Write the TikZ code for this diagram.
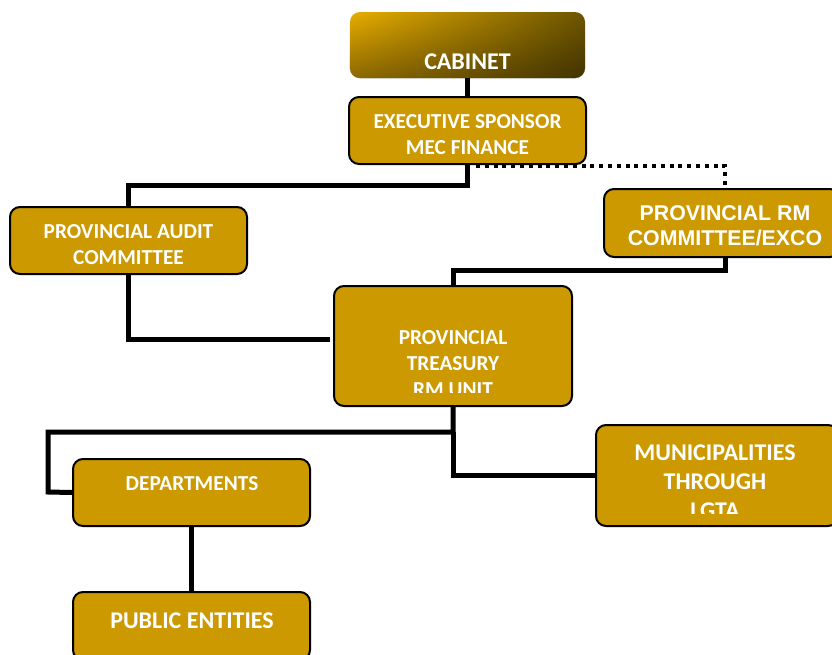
\documentclass[tikz,border=0pt]{standalone}
\usepackage{fontspec}
\usetikzlibrary{fadings}
\newfontfamily\calfont{Carlito}
\newfontfamily\arialfont{Liberation Sans}
\definecolor{boxgold}{HTML}{CC9900}
\definecolor{cabgold}{HTML}{E8AE00}
\definecolor{cabdark}{HTML}{6E5600}
\tikzfading[name=darkbottom, top color=transparent!100, bottom color=transparent!0]
\tikzset{
  orgbox/.style={draw=black, line width=1.5pt, fill=boxgold, rounded corners=7.5pt, inner sep=0pt},
  lbl/.style={text=white, align=center, inner sep=0pt, font=\calfont\bfseries\fontsize{16}{19.5}\selectfont},
  lblbig/.style={lbl, font=\calfont\bfseries\fontsize{18}{21.75}\selectfont},
  lblarial/.style={text=white, align=center, inner sep=0pt, font=\arialfont\bfseries\fontsize{16}{18.75}\selectfont},
  conn/.style={line width=3.75pt, draw=black},
  dotconn/.style={line width=3.6pt, draw=black, dash pattern=on 3pt off 3.6pt},
}
\begin{document}
\begin{tikzpicture}[x=0.75pt, y=-0.75pt]
\useasboundingbox (0,0) rectangle (832,654);
% boxes
\node[rounded corners=7.5pt, inner sep=0pt, minimum width=176.25pt, minimum height=49.5pt, left color=cabgold, right color=cabdark] (cab) at (467.5,45) {};
\fill[rounded corners=7.5pt, black, fill opacity=0.4, path fading=darkbottom] (cab.north west) rectangle (cab.south east);
\node[orgbox, minimum width=177.75pt, minimum height=50.25pt] (exec) at (467.5,130.5) {};
\node[orgbox, minimum width=177.75pt, minimum height=50.25pt] (audit) at (128.5,240.5) {};
\node[orgbox, minimum width=177pt, minimum height=51pt] (rm) at (722,223) {};
\node[orgbox, minimum width=178.5pt, minimum height=90pt] (treas) at (453,346) {};
\node[orgbox, minimum width=181.5pt, minimum height=75.75pt] (muni) at (717,475.5) {};
\node[orgbox, minimum width=177.75pt, minimum height=50.25pt] (dept) at (191.5,492.5) {};
\node[orgbox, minimum width=177.75pt, minimum height=51pt] (pub) at (191.5,626) {};
% texts
\node[lblbig, anchor=base] (cabt) at (467.5,69.5) {CABINET};
\node[lbl] (exect) at (467.5,135) {EXECUTIVE SPONSOR\\MEC FINANCE};
\node[lbl] (auditt) at (128.5,245) {PROVINCIAL AUDIT\\COMMITTEE};
\node[lblarial] (rmt) at (725,225.5) {PROVINCIAL RM\\COMMITTEE/EXCO};
\begin{scope}
\clip (330,280) rectangle (580,392);
\node[lbl] (treast) at (453,364) {PROVINCIAL\\TREASURY\\RM UNIT};
\end{scope}
\begin{scope}
\clip (590,420) rectangle (832,513);
\node[lblbig] (munit) at (715,482) {MUNICIPALITIES\\THROUGH\\LGTA};
\end{scope}
\node[lbl] (deptt) at (192,484) {DEPARTMENTS};
\node[lblbig] (pubt) at (192,621) {PUBLIC ENTITIES};
% connectors
\coordinate (e1) at (467.5,185);
\coordinate (rmtop) at (725,189);
\coordinate (rmbot) at (725,257);
\coordinate (dstart) at (476,166);
\coordinate (rmj) at (725,270);
\coordinate (tj) at (453,432);
\coordinate (tl) at (330,339);
\coordinate (dl) at (48,492);
\draw[conn] (cab.south) -- (exec.north);
\draw[conn] (exec.south) -- (e1) -| (audit.north);
\draw[dotconn] (dstart) -| (rmtop);
\draw[conn] (rmbot) -- (rmj) -| (treas.north);
\draw[conn] (audit.south) |- (tl);
\draw[conn] (treas.south) -- (tj) -| (dl) -- (dept.west);
\draw[conn] (tj) |- (muni.west);
\draw[conn] (dept.south) -- (pub.north);
\end{tikzpicture}
\end{document}
